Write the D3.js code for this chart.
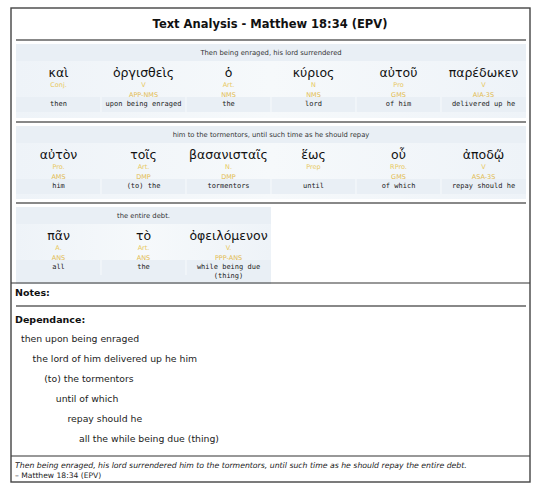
<!DOCTYPE html>
<html><head><meta charset="utf-8">
<script src="https://cdn.jsdelivr.net/npm/d3@7"></script>
<style>body{margin:0;background:#fff}svg{display:block}</style>
</head><body>
<svg id="c" width="540" height="493"></svg>
<script>
const title = "Text Analysis - Matthew 18:34 (EPV)";
const headers = ["Then being enraged, his lord surrendered", "him to the tormentors, until such time as he should repay", "the entire debt."];
const greek = [["καὶ","ὀργισθεὶς","ὁ","κύριος","αὐτοῦ","παρέδωκεν"],["αὐτὸν","τοῖς","βασανισταῖς","ἕως","οὗ","ἀποδῷ"],["πᾶν","τὸ","ὀφειλόμενον"]];
const pos = [["Conj.","V","Art.","N","Pro","V"],["Pro.","Art.","N.","Prep","RPro.","V"],["A.","Art.","V."]];
const parsing = [["","APP-NMS","NMS","NMS","GMS","AIA-3S"],["AMS","DMP","DMP","","GMS","ASA-3S"],["ANS","ANS","PPP-ANS"]];
const glosses = [["then","upon being enraged","the","lord","of him","delivered up he"],["him","(to) the","tormentors","until","of which","repay should he"],["all","the",["while being due","(thing)"]]];
const notesLabel = "Notes:";
const depLabel = "Dependance:";
const depLines = ["then upon being enraged","the lord of him delivered up he him","(to) the tormentors","until of which","repay should he","all the while being due (thing)"];
const depLevels = [0,1,2,3,4,5];
const footerText = "Then being enraged, his lord surrendered him to the tormentors, until such time as he should repay the entire debt.";
const footerRef = "– Matthew 18:34 (EPV)";

const svg = d3.select("#c");
const sans = "DejaVu Sans, sans-serif";
const mono = "DejaVu Sans Mono, monospace";
const L = 11, R = 530, T = 8, B = 482;
const x = d3.scaleBand().domain(d3.range(6)).range([16, 526]);

const defs = svg.append("defs");
const g = defs.append("linearGradient").attr("id","bg").attr("x1",0).attr("y1",0).attr("x2",1).attr("y2",0);
g.append("stop").attr("offset","0%").attr("stop-color","#eef3f8");
g.append("stop").attr("offset","50%").attr("stop-color","#f6f9fb");
g.append("stop").attr("offset","100%").attr("stop-color","#eef3f8");

// title
svg.append("text").attr("x",270).attr("y",28).attr("text-anchor","middle")
  .attr("font-family",sans).attr("font-weight","bold").attr("font-size",11.5).attr("fill","#111").text(title);

function sep(y){
  svg.append("line").attr("x1",16).attr("x2",526).attr("y1",y).attr("y2",y).attr("stroke","#888").attr("stroke-width",2);
}
sep(40);

const blockTops = [44,126,207];
const blockBottoms = [118,199,281];
blockTops.forEach((top,bi)=>{
  const n = greek[bi].length;
  const w = x.bandwidth()*n;
  const gb = svg.append("g");
  gb.append("rect").attr("x",16).attr("y",top).attr("width",w).attr("height",blockBottoms[bi]-top).attr("fill","url(#bg)");
  gb.append("rect").attr("x",16).attr("y",top).attr("width",w).attr("height",17).attr("fill","#e9eff5");
  const hy = top+8;
  gb.append("text").attr("x",16+w/2).attr("y",hy+2.5).attr("text-anchor","middle")
    .attr("font-family",sans).attr("font-size",6.8).attr("fill","#333").text(headers[bi]);
  const gy = hy+20;
  gb.append("rect").attr("x",16).attr("y",gy+25).attr("width",w).attr("height",bi===2?24:15).attr("fill","#e9eff5");
  const cols = gb.selectAll("g.col").data(d3.range(n)).join("g").attr("class","col")
    .attr("transform",i=>`translate(${x(i)+x.bandwidth()/2},0)`);
  cols.filter(i=>i>0).append("line").attr("x1",-x.bandwidth()/2).attr("x2",-x.bandwidth()/2)
    .attr("y1",gy+25).attr("y2",gy+40).attr("stroke","#f7fafc").attr("stroke-width",1);
  cols.append("text").attr("y",gy+4.5).attr("text-anchor","middle").attr("font-family",sans).attr("font-size",12.5).attr("fill","#111")
    .text(i=>greek[bi][i]);
  cols.append("text").attr("y",gy+14.5).attr("text-anchor","middle").attr("font-family",sans).attr("font-size",6.5).attr("fill","#e8c860")
    .text(i=>pos[bi][i]);
  cols.append("text").attr("y",gy+24.5).attr("text-anchor","middle").attr("font-family",sans).attr("font-size",6.5).attr("fill","#e2bb50")
    .text(i=>parsing[bi][i]);
  cols.each(function(i){
    const gl = glosses[bi][i];
    const lines = Array.isArray(gl)?gl:[gl];
    lines.forEach((t,k)=>{
      d3.select(this).append("text").attr("y",gy+34+k*9).attr("text-anchor","middle").attr("font-family",mono)
        .attr("font-size",7).attr("fill","#222").text(t);
    });
  });
});
sep(122); sep(203);

// full-width line after blocks
svg.append("line").attr("x1",L).attr("x2",R).attr("y1",283).attr("y2",283).attr("stroke","#333").attr("stroke-width",1.2);
svg.append("text").attr("x",15).attr("y",296).attr("font-family",sans).attr("font-weight","bold").attr("font-size",9.5).attr("fill","#111").text(notesLabel);
sep(306);
svg.append("text").attr("x",15).attr("y",323).attr("font-family",sans).attr("font-weight","bold").attr("font-size",9.5).attr("fill","#111").text(depLabel);

const indent = d3.scaleLinear().domain([0,5]).range([21,79]);
const dy = d3.scaleLinear().domain([0,5]).range([341.5,441.5]);
svg.selectAll("text.dep").data(depLines).join("text").attr("class","dep")
  .attr("x",(d,i)=>indent(depLevels[i])).attr("y",(d,i)=>dy(i))
  .attr("font-family",sans).attr("font-size",9.3).attr("fill","#222").text(d=>d);

svg.append("line").attr("x1",L).attr("x2",R).attr("y1",456).attr("y2",456).attr("stroke","#333").attr("stroke-width",1.2);
svg.append("text").attr("x",15).attr("y",467.5).attr("font-family",sans).attr("font-style","italic").attr("font-size",7.75).attr("fill","#222").text(footerText);
svg.append("text").attr("x",15).attr("y",477.5).attr("font-family",sans).attr("font-size",7.6).attr("fill","#222").text(footerRef);

// outer border
svg.append("rect").attr("x",L).attr("y",T).attr("width",R-L).attr("height",B-T).attr("fill","none").attr("stroke","#444").attr("stroke-width",1.4);
</script>
</body></html>
